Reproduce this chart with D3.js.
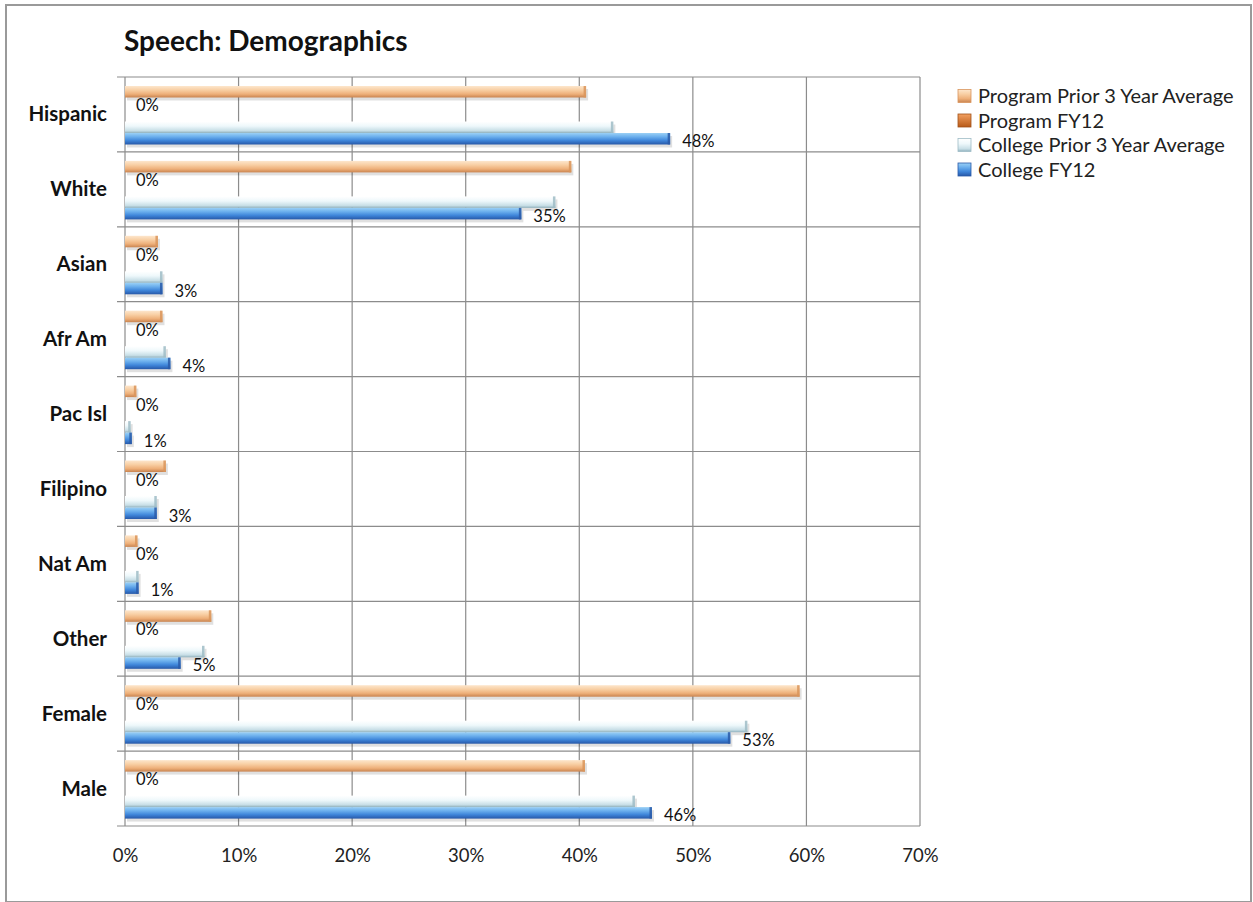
<!DOCTYPE html>
<html><head><meta charset="utf-8">
<script src="https://cdn.jsdelivr.net/npm/d3@7/dist/d3.min.js"></script>
<style>body{margin:0;background:#fff}svg{display:block}</style>
</head><body>
<svg id="c" width="1253" height="902"></svg>
<script>
const categories = ["Hispanic","White","Asian","Afr Am","Pac Isl","Filipino","Nat Am","Other","Female","Male"];
const seriesNames = ["Program Prior 3 Year Average","Program FY12","College Prior 3 Year Average","College FY12"];
const programPrior = [40.6, 39.3, 2.9, 3.3, 1.0, 3.6, 1.1, 7.6, 59.4, 40.5];
const programFY12  = [0, 0, 0, 0, 0, 0, 0, 0, 0, 0];
const collegePrior = [43.0, 37.9, 3.3, 3.6, 0.5, 2.8, 1.2, 7.0, 54.8, 44.9];
const collegeFY12  = [48.0, 34.9, 3.3, 4.0, 0.6, 2.8, 1.2, 4.9, 53.3, 46.4];
const tickValues = [0,10,20,30,40,50,60,70];
const seriesData = [programPrior, programFY12, collegePrior, collegeFY12];

const svg = d3.select("#c");
const font = "Lato, 'Open Sans', sans-serif";
const defs = svg.append("defs");
function grad(id, stops){
  const g = defs.append("linearGradient").attr("id",id).attr("x1",0).attr("y1",0).attr("x2",0).attr("y2",1);
  stops.forEach(s=>g.append("stop").attr("offset",s[0]).attr("stop-color",s[1]));
}
grad("gOr",[[0,"#fde6cc"],[0.35,"#f8cfa4"],[0.7,"#eeb07a"],[1,"#c98450"]]);
grad("gPf",[[0,"#f3a060"],[1,"#b85a18"]]);
grad("gLt",[[0,"#ffffff"],[0.4,"#eef8fb"],[0.8,"#c7dee6"],[1,"#8fb0bc"]]);
grad("gBl",[[0,"#9bd0f5"],[0.3,"#6fb2ee"],[0.65,"#3f86da"],[1,"#2758a8"]]);
const fills = ["url(#gOr)","url(#gPf)","url(#gLt)","url(#gBl)"];
const endCol = ["#d9955c","#a0521a","#9fbcc6","#2a5aa8"];

// frame
svg.append("rect").attr("x",6).attr("y",5).attr("width",1245).attr("height",897)
  .attr("fill","none").attr("stroke","#9a9a9a").attr("stroke-width",2);

// title
svg.append("text").attr("x",124).attr("y",51).attr("font-family",font).attr("font-weight","bold")
  .attr("font-size",28).attr("fill","#111").text("Speech: Demographics");

const x = d3.scaleLinear().domain([0,70]).range([125,920]);
const y = d3.scaleBand().domain(categories).range([77,826]);
const barH = 11.5;
const offsets = [9, 23, 44.5, 56];

const plot = svg.append("g");
plot.selectAll("line.v").data(tickValues).join("line")
  .attr("x1",d=>x(d)).attr("x2",d=>x(d)).attr("y1",77).attr("y2",826)
  .attr("stroke","#8c8c8c").attr("stroke-width",1.2);
const hs = categories.map(c=>y(c)).concat([826]);
plot.selectAll("line.h").data(hs).join("line")
  .attr("x1",117).attr("x2",920).attr("y1",d=>d).attr("y2",d=>d)
  .attr("stroke","#8c8c8c").attr("stroke-width",1.2);

// bars
seriesData.forEach((vals,si)=>{
  const g = svg.append("g");
  vals.forEach((v,i)=>{
    if(v<=0) return;
    const yy = y(categories[i]) + offsets[si];
    const w = x(v)-x(0);
    g.append("rect").attr("x",x(0)+2).attr("y",yy+3).attr("width",w).attr("height",barH)
      .attr("fill","#000").attr("opacity",0.12);
    g.append("rect").attr("x",x(0)).attr("y",yy).attr("width",w).attr("height",barH)
      .attr("fill",fills[si]);
    g.append("rect").attr("x",x(v)-2.5).attr("y",yy).attr("width",2.5).attr("height",barH)
      .attr("fill",endCol[si]).attr("opacity",0.85);
  });
});

// labels: Program FY12
svg.append("g").selectAll("text").data(programFY12).join("text")
  .attr("x",(d)=>x(d)+11).attr("y",(d,i)=>y(categories[i])+34)
  .attr("font-family",font).attr("font-size",16.5).attr("fill","#111")
  .text(d=>d3.format(".0f")(d)+"%");
// labels: College FY12
svg.append("g").selectAll("text").data(collegeFY12).join("text")
  .attr("x",(d)=>x(d)+12).attr("y",(d,i)=>y(categories[i])+offsets[3]+14)
  .attr("font-family",font).attr("font-size",16.5).attr("fill","#111")
  .text(d=>Math.round(d)+"%");

// category labels
svg.append("g").selectAll("text").data(categories).join("text")
  .attr("x",107).attr("y",d=>y(d)+y.bandwidth()/2+7)
  .attr("text-anchor","end").attr("font-family",font).attr("font-weight","bold")
  .attr("font-size",20.5).attr("fill","#111").text(d=>d);

// x axis
const xa = svg.append("g").attr("transform","translate(0,826)")
  .call(d3.axisBottom(x).tickValues(tickValues).tickSize(0).tickPadding(23).tickFormat(d=>d+"%"));
xa.select(".domain").remove();
xa.selectAll("text").attr("font-family",font).attr("font-size",18.5).attr("fill","#222");

// legend
const leg = svg.append("g");
seriesNames.forEach((n,i)=>{
  const yy = 96 + i*24.5;
  leg.append("rect").attr("x",958).attr("y",yy-6.5).attr("width",13).attr("height",13)
    .attr("fill",fills[i]).attr("stroke",endCol[i]).attr("stroke-width",0.8);
  leg.append("text").attr("x",978).attr("y",yy+7).attr("font-family",font)
    .attr("font-size",20).attr("fill","#222").text(n);
});
</script>
</body></html>
